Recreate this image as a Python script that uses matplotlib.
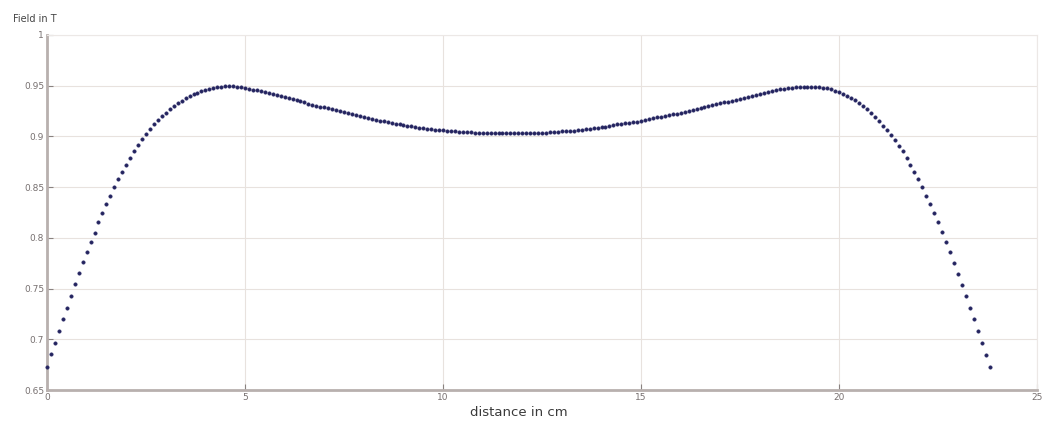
import matplotlib
matplotlib.use("Agg")
import matplotlib.pyplot as plt
import numpy as np

# distance along the axis, cm (0.1 cm step, 0 .. 23.8)
distance = np.round(np.arange(239) * 0.1, 1)

# field values, T
field = [
    # 0.0 - 0.9
    0.6726, 0.6850, 0.6960, 0.7080, 0.7200, 0.7310, 0.7430, 0.7540, 0.7650, 0.7760,
    # 1.0 - 1.9
    0.7860, 0.7960, 0.8050, 0.8155, 0.8244, 0.8329, 0.8414, 0.8499, 0.8578, 0.8647,
    # 2.0 - 2.9
    0.8715, 0.8788, 0.8853, 0.8912, 0.8971, 0.9024, 0.9073, 0.9119, 0.9162, 0.9197,
    # 3.0 - 3.9
    0.9234, 0.9270, 0.9299, 0.9325, 0.9352, 0.9374, 0.9398, 0.9413, 0.9430, 0.9447,
    # 4.0 - 4.9
    0.9460, 0.9470, 0.9479, 0.9486, 0.9490, 0.9492, 0.9493, 0.9492, 0.9490, 0.9486,
    # 5.0 - 5.9
    0.9477, 0.9469, 0.9461, 0.9452, 0.9443, 0.9437, 0.9428, 0.9418, 0.9408, 0.9398,
    # 6.0 - 6.9
    0.9388, 0.9377, 0.9366, 0.9355, 0.9344, 0.9334, 0.9323, 0.9313, 0.9303, 0.9294,
    # 7.0 - 7.9
    0.9285, 0.9275, 0.9266, 0.9256, 0.9246, 0.9236, 0.9226, 0.9217, 0.9208, 0.9199,
    # 8.0 - 8.9
    0.9190, 0.9181, 0.9172, 0.9164, 0.9156, 0.9148, 0.9140, 0.9132, 0.9124, 0.9117,
    # 9.0 - 9.9
    0.9111, 0.9104, 0.9098, 0.9092, 0.9086, 0.9081, 0.9076, 0.9071, 0.9067, 0.9063,
    # 10.0 - 10.9
    0.9060, 0.9056, 0.9053, 0.9050, 0.9047, 0.9044, 0.9041, 0.9039, 0.9037, 0.9035,
    # 11.0 - 11.9
    0.9034, 0.9033, 0.9032, 0.9031, 0.9030, 0.9030, 0.9030, 0.9029, 0.9029, 0.9029,
    # 12.0 - 12.9
    0.9030, 0.9030, 0.9030, 0.9031, 0.9032, 0.9034, 0.9037, 0.9040, 0.9043, 0.9046,
    # 13.0 - 13.9
    0.9048, 0.9050, 0.9053, 0.9056, 0.9060, 0.9064, 0.9069, 0.9074, 0.9079, 0.9085,
    # 14.0 - 14.9
    0.9091, 0.9097, 0.9103, 0.9110, 0.9117, 0.9122, 0.9128, 0.9133, 0.9138, 0.9146,
    # 15.0 - 15.9
    0.9154, 0.9162, 0.9170, 0.9178, 0.9186, 0.9194, 0.9202, 0.9209, 0.9217, 0.9225,
    # 16.0 - 16.9
    0.9233, 0.9240, 0.9249, 0.9258, 0.9267, 0.9276, 0.9286, 0.9296, 0.9306, 0.9315,
    # 17.0 - 17.9
    0.9324, 0.9334, 0.9343, 0.9352, 0.9362, 0.9371, 0.9380, 0.9390, 0.9399, 0.9409,
    # 18.0 - 18.9
    0.9419, 0.9430, 0.9439, 0.9447, 0.9455, 0.9462, 0.9468, 0.9474, 0.9479, 0.9483,
    # 19.0 - 19.9
    0.9487, 0.9489, 0.9490, 0.9490, 0.9488, 0.9484, 0.9478, 0.9472, 0.9462, 0.9450,
    # 20.0 - 20.9
    0.9436, 0.9420, 0.9402, 0.9380, 0.9358, 0.9330, 0.9302, 0.9268, 0.9232, 0.9190,
    # 21.0 - 21.9
    0.9152, 0.9107, 0.9058, 0.9009, 0.8960, 0.8907, 0.8855, 0.8789, 0.8717, 0.8652,
    # 22.0 - 22.9
    0.8580, 0.8501, 0.8416, 0.8331, 0.8246, 0.8152, 0.8057, 0.7958, 0.7857, 0.7756,
    # 23.0 - 23.8
    0.7648, 0.7539, 0.7427, 0.7313, 0.7198, 0.7083, 0.6959, 0.6847, 0.6726,
]

xticks = [0, 5, 10, 15, 20, 25]
xtick_labels = ["0", "5", "10", "15", "20", "25"]
yticks = [0.65, 0.7, 0.75, 0.8, 0.85, 0.9, 0.95, 1.0]
ytick_labels = ["0.65", "0.7", "0.75", "0.8", "0.85", "0.9", "0.95", "1"]

fig = plt.figure(figsize=(10.44, 4.23), dpi=100, facecolor="white")
ax = fig.add_axes([0.045, 0.078, 0.9485, 0.8395])

# markers drawn above the thick spines so the x=0 point is not hidden
ax.plot(distance, field, linestyle="none", marker="o", markersize=2.3,
        markerfacecolor="#23235e", markeredgecolor="#2a2a66", markeredgewidth=0.6,
        clip_on=False, zorder=5)

ax.set_xlim(0, 25)
ax.set_ylim(0.65, 1.0)
ax.set_xticks(xticks)
ax.set_xticklabels(xtick_labels)
ax.set_yticks(yticks)
ax.set_yticklabels(ytick_labels)

ax.grid(True, color="#e8e2de", linewidth=0.8)
ax.set_axisbelow(True)

for side in ["top", "right"]:
    ax.spines[side].set_color("#ece8e6")
    ax.spines[side].set_linewidth(0.8)
for side in ["bottom", "left"]:
    ax.spines[side].set_color("#b8b0ae")
    ax.spines[side].set_linewidth(2.0)

ax.tick_params(axis="both", direction="in", length=4, width=0.8, color="#8a8280",
               labelsize=6.5, labelcolor="#777070", pad=2)

ax.set_xlabel("distance in cm", fontsize=9.5, color="#3a3a3a")
ax.xaxis.set_label_coords(0.476, -0.045)

fig.text(0.012, 0.955, "Field in T", fontsize=7, color="#444444", ha="left", va="center")

fig.savefig("out.png", dpi=100, facecolor="white")
